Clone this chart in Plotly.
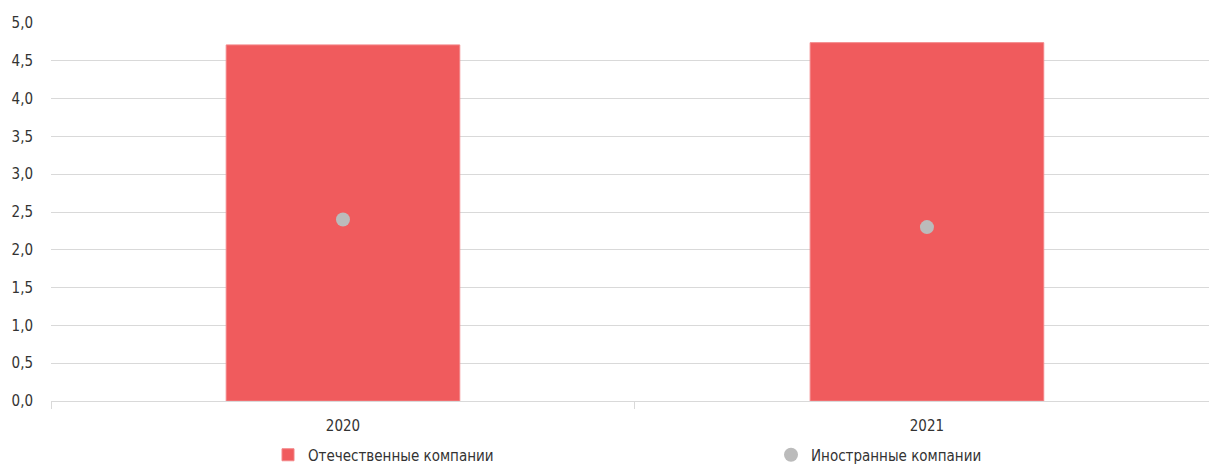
import plotly.graph_objects as go

# Data
years = ["2020", "2021"]
domestic = [4.71, 4.74]   # Отечественные компании
foreign = [2.4, 2.3]      # Иностранные компании
y_ticks = [0, 0.5, 1.0, 1.5, 2.0, 2.5, 3.0, 3.5, 4.0, 4.5, 5.0]
y_tick_labels = ["0,0", "0,5", "1,0", "1,5", "2,0", "2,5", "3,0", "3,5", "4,0", "4,5", "5,0"]

FONT = "DejaVu Sans Condensed, Roboto"
TEXT = "#333333"
GRID = "#d9d9d9"
FS = 15

fig = go.Figure()
fig.add_trace(go.Bar(
    x=years, y=domestic, name="Отечественные компании",
    marker=dict(color="#F05B5D", line=dict(color="#F38587", width=1)),
    width=0.4, legend="legend",
))
fig.add_trace(go.Scatter(
    x=years, y=foreign, name="Иностранные компании", mode="markers",
    marker=dict(color="#BBBBBB", size=14, symbol="circle"),
    legend="legend2",
))

legend_common = dict(
    orientation="h", xanchor="left", yanchor="middle",
    xref="container", yref="container", itemwidth=30,
    font=dict(family=FONT, size=FS, color=TEXT),
    bgcolor="rgba(0,0,0,0)",
)

fig.update_layout(
    width=1209, height=465,
    margin=dict(l=51, r=0, t=23, b=64, autoexpand=False),
    paper_bgcolor="white", plot_bgcolor="white",
    font=dict(family=FONT, size=FS, color=TEXT),
    showlegend=True,
    legend=dict(x=268 / 1209, y=1 - 455 / 465, **legend_common),
    legend2=dict(x=771 / 1209, y=1 - 455 / 465, **legend_common),
)
fig.update_xaxes(
    type="category", range=[-0.5, 1.483],
    showgrid=False, showline=True, linecolor=GRID, linewidth=1,
    ticks="outside", tickson="boundaries", ticklen=7, tickcolor=GRID,
    ticklabelstandoff=11,
    tickfont=dict(family=FONT, size=FS, color=TEXT),
)
fig.update_yaxes(
    range=[0, 5.0], tickvals=y_ticks, ticktext=y_tick_labels,
    showgrid=True, gridcolor=GRID, gridwidth=1, zeroline=False,
    showline=False, ticks="", ticklabelstandoff=17,
    tickfont=dict(family=FONT, size=FS, color=TEXT),
)

fig.write_html("out.html")
